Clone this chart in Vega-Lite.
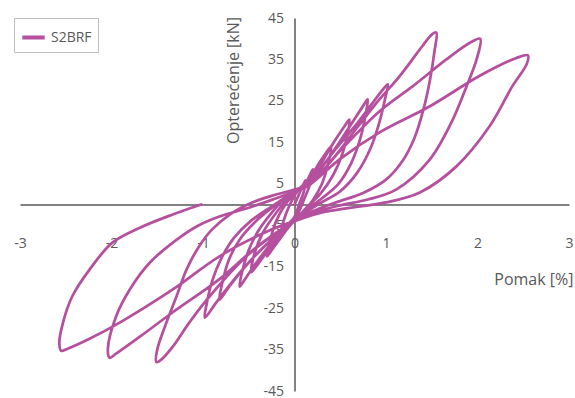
{
  "$schema": "https://vega.github.io/schema/vega-lite/v6.json",
  "width": 549,
  "height": 373,
  "autosize": {"type": "none"},
  "padding": {"left": 20, "top": 18, "right": 6, "bottom": 7},
  "background": "white",
  "config": {"view": {"stroke": null}, "font": "Open Sans"},
  "data": {"values": [
    {"i":0,"x":0,"y":0},{"i":1,"x":0.05,"y":2.5},{"i":2,"x":0.1,"y":5},{"i":3,"x":0.12,"y":5.8},{"i":4,"x":0.1,"y":3},{"i":5,"x":0.05,"y":0},{"i":6,"x":0,"y":-3},
    {"i":7,"x":-0.08,"y":-5},{"i":8,"x":-0.15,"y":-7.5},{"i":9,"x":-0.12,"y":-4},{"i":10,"x":-0.05,"y":0},{"i":11,"x":0.05,"y":3.8},
    {"i":12,"x":0.13,"y":5.5},{"i":13,"x":0.2,"y":8.5},{"i":14,"x":0.17,"y":5},{"i":15,"x":0.1,"y":1},{"i":16,"x":0.02,"y":-3},
    {"i":17,"x":-0.1,"y":-6.5},{"i":18,"x":-0.25,"y":-11},{"i":19,"x":-0.3,"y":-12.5},{"i":20,"x":-0.27,"y":-9},{"i":21,"x":-0.2,"y":-4},{"i":22,"x":-0.1,"y":0},{"i":23,"x":0.05,"y":3.8},
    {"i":24,"x":0.15,"y":6},{"i":25,"x":0.3,"y":11},{"i":26,"x":0.4,"y":14},{"i":27,"x":0.37,"y":10},{"i":28,"x":0.3,"y":5},{"i":29,"x":0.2,"y":1},{"i":30,"x":0.05,"y":-3},
    {"i":31,"x":-0.05,"y":-5},{"i":32,"x":-0.25,"y":-10},{"i":33,"x":-0.42,"y":-15},{"i":34,"x":-0.47,"y":-16.3},{"i":35,"x":-0.44,"y":-12},{"i":36,"x":-0.35,"y":-7},{"i":37,"x":-0.2,"y":-2},{"i":38,"x":-0.05,"y":2},{"i":39,"x":0.08,"y":4},
    {"i":40,"x":0.2,"y":6.5},{"i":41,"x":0.4,"y":14},{"i":42,"x":0.55,"y":19},{"i":43,"x":0.6,"y":20.5},{"i":44,"x":0.58,"y":17},{"i":45,"x":0.52,"y":12},{"i":46,"x":0.42,"y":7},{"i":47,"x":0.28,"y":2.5},{"i":48,"x":0.12,"y":-1},{"i":49,"x":0,"y":-4},
    {"i":50,"x":-0.2,"y":-8},{"i":51,"x":-0.4,"y":-13.5},{"i":52,"x":-0.55,"y":-18.3},{"i":53,"x":-0.6,"y":-19.8},{"i":54,"x":-0.57,"y":-16},{"i":55,"x":-0.5,"y":-11},{"i":56,"x":-0.4,"y":-6.5},{"i":57,"x":-0.25,"y":-2},{"i":58,"x":-0.08,"y":2},{"i":59,"x":0.1,"y":4.3},
    {"i":60,"x":0.3,"y":9},{"i":61,"x":0.55,"y":17},{"i":62,"x":0.75,"y":23.8},{"i":63,"x":0.8,"y":25.4},{"i":64,"x":0.78,"y":22},{"i":65,"x":0.72,"y":16},{"i":66,"x":0.62,"y":10},{"i":67,"x":0.48,"y":5},{"i":68,"x":0.3,"y":1.5},{"i":69,"x":0.12,"y":-1.5},{"i":70,"x":0,"y":-4},
    {"i":71,"x":-0.25,"y":-8.5},{"i":72,"x":-0.5,"y":-14},{"i":73,"x":-0.72,"y":-20},{"i":74,"x":-0.82,"y":-23},{"i":75,"x":-0.79,"y":-19},{"i":76,"x":-0.72,"y":-13.5},{"i":77,"x":-0.6,"y":-8.5},{"i":78,"x":-0.42,"y":-4},{"i":79,"x":-0.2,"y":0},{"i":80,"x":0,"y":3.2},{"i":81,"x":0.13,"y":4.3},
    {"i":82,"x":0.4,"y":12},{"i":83,"x":0.7,"y":20},{"i":84,"x":0.95,"y":27.3},{"i":85,"x":1.02,"y":29},{"i":86,"x":0.99,"y":25.5},{"i":87,"x":0.93,"y":20},{"i":88,"x":0.83,"y":13.5},{"i":89,"x":0.68,"y":7.5},{"i":90,"x":0.5,"y":3.2},{"i":91,"x":0.28,"y":0.3},{"i":92,"x":0.1,"y":-2.2},{"i":93,"x":0,"y":-4},
    {"i":94,"x":-0.3,"y":-9.5},{"i":95,"x":-0.6,"y":-16.5},{"i":96,"x":-0.85,"y":-23.5},{"i":97,"x":-0.98,"y":-27.3},{"i":98,"x":-0.96,"y":-24},{"i":99,"x":-0.9,"y":-18.5},{"i":100,"x":-0.8,"y":-13},{"i":101,"x":-0.66,"y":-8},{"i":102,"x":-0.48,"y":-4},{"i":103,"x":-0.25,"y":-0.5},{"i":104,"x":0,"y":3},{"i":105,"x":0.13,"y":4.3},
    {"i":106,"x":0.4,"y":10.5},{"i":107,"x":0.7,"y":19},{"i":108,"x":0.93,"y":25.4},{"i":109,"x":1.15,"y":31},{"i":110,"x":1.4,"y":38.3},{"i":111,"x":1.5,"y":41},{"i":112,"x":1.55,"y":41.5},
    {"i":113,"x":1.53,"y":37},{"i":114,"x":1.48,"y":30},{"i":115,"x":1.41,"y":23},{"i":116,"x":1.31,"y":16},{"i":117,"x":1.18,"y":10.5},{"i":118,"x":1.0,"y":6},{"i":119,"x":0.75,"y":2.8},{"i":120,"x":0.45,"y":0.5},{"i":121,"x":0.2,"y":-1.6},{"i":122,"x":0,"y":-4},
    {"i":123,"x":-0.3,"y":-8.5},{"i":124,"x":-0.55,"y":-13},{"i":125,"x":-0.96,"y":-23},{"i":126,"x":-1.15,"y":-28.5},{"i":127,"x":-1.33,"y":-34.3},{"i":128,"x":-1.45,"y":-37.3},{"i":129,"x":-1.51,"y":-38},
    {"i":130,"x":-1.5,"y":-35},{"i":131,"x":-1.4,"y":-28.5},{"i":132,"x":-1.29,"y":-22.2},{"i":133,"x":-1.18,"y":-15.7},{"i":134,"x":-1.04,"y":-10},{"i":135,"x":-0.9,"y":-6},{"i":136,"x":-0.7,"y":-2.3},{"i":137,"x":-0.45,"y":0.6},{"i":138,"x":-0.2,"y":2.4},{"i":139,"x":0.05,"y":3.9},{"i":140,"x":0.15,"y":4.5},
    {"i":141,"x":0.5,"y":13},{"i":142,"x":0.93,"y":22.5},{"i":143,"x":1.29,"y":28.5},{"i":144,"x":1.66,"y":35},{"i":145,"x":1.93,"y":39.2},{"i":146,"x":2.03,"y":40},
    {"i":147,"x":1.99,"y":35},{"i":148,"x":1.88,"y":28.5},{"i":149,"x":1.73,"y":20.5},{"i":150,"x":1.48,"y":10.9},{"i":151,"x":1.11,"y":3.6},{"i":152,"x":0.8,"y":1.2},{"i":153,"x":0.5,"y":-0.2},{"i":154,"x":0.2,"y":-2},{"i":155,"x":0,"y":-4},
    {"i":156,"x":-0.4,"y":-10},{"i":157,"x":-0.82,"y":-18},{"i":158,"x":-1.33,"y":-26},{"i":159,"x":-1.69,"y":-31.9},{"i":160,"x":-1.95,"y":-36},{"i":161,"x":-2.02,"y":-37},
    {"i":162,"x":-2.04,"y":-35},{"i":163,"x":-1.95,"y":-27},{"i":164,"x":-1.8,"y":-20.5},{"i":165,"x":-1.58,"y":-14},{"i":166,"x":-1.33,"y":-9.2},{"i":167,"x":-1.07,"y":-5.3},{"i":168,"x":-0.82,"y":-2.9},{"i":169,"x":-0.5,"y":-0.8},{"i":170,"x":-0.2,"y":1.5},{"i":171,"x":0.05,"y":3.5},{"i":172,"x":0.15,"y":4.5},
    {"i":173,"x":0.5,"y":11},{"i":174,"x":0.93,"y":17.4},{"i":175,"x":1.48,"y":23.7},{"i":176,"x":2.02,"y":31},{"i":177,"x":2.42,"y":35.3},{"i":178,"x":2.55,"y":36},
    {"i":179,"x":2.54,"y":34},{"i":180,"x":2.38,"y":28.5},{"i":181,"x":2.13,"y":18.8},{"i":182,"x":1.77,"y":9.2},{"i":183,"x":1.37,"y":2.9},{"i":184,"x":1.0,"y":0.5},{"i":185,"x":0.6,"y":-0.8},{"i":186,"x":0.3,"y":-1.9},{"i":187,"x":0,"y":-4},
    {"i":188,"x":-0.3,"y":-6.5},{"i":189,"x":-0.82,"y":-12.5},{"i":190,"x":-1.33,"y":-20.5},{"i":191,"x":-1.91,"y":-28.5},{"i":192,"x":-2.24,"y":-32.4},{"i":193,"x":-2.48,"y":-34.8},{"i":194,"x":-2.55,"y":-35.3},
    {"i":195,"x":-2.57,"y":-33.3},{"i":196,"x":-2.53,"y":-28.5},{"i":197,"x":-2.43,"y":-22.2},{"i":198,"x":-2.24,"y":-15.7},{"i":199,"x":-1.99,"y":-9.2},{"i":200,"x":-1.69,"y":-5.6},{"i":201,"x":-1.33,"y":-2.4},{"i":202,"x":-1.02,"y":0}
  ]},
  "mark": {"type": "line", "interpolate": "catmull-rom", "strokeWidth": 2.75, "strokeCap": "round", "strokeJoin": "round", "clip": false},
  "encoding": {
    "x": {
      "field": "x", "type": "quantitative",
      "scale": {"domain": [-3, 3], "nice": false, "zero": false},
      "axis": {
        "title": "Pomak [%]", "values": [-3, -2, -1, 0, 1, 2, 3],
        "labelExpr": "toString(datum.value)",
        "offset": -186.5, "grid": false, "ticks": false, "tickSize": 0,
        "labelPadding": 32, "labelFlush": false, "labelOverlap": false,
        "labelFontSize": 14, "labelColor": "#595959",
        "domainColor": "#595959", "domainWidth": 1.5,
        "titleFontSize": 16, "titleFontWeight": "normal", "titleColor": "#595959",
        "titleX": 553, "titleY": 75, "titleAlign": "right", "titleBaseline": "middle"
      }
    },
    "y": {
      "field": "y", "type": "quantitative",
      "scale": {"domain": [-45, 45], "nice": false, "zero": false},
      "axis": {
        "title": "Opterećenje [kN]", "values": [-45, -35, -25, -15, -5, 5, 15, 25, 35, 45],
        "labelExpr": "toString(datum.value)",
        "offset": -274.5, "grid": false, "ticks": false, "tickSize": 0,
        "labelPadding": 11, "labelFlush": false, "labelOverlap": false,
        "labelFontSize": 14, "labelColor": "#595959",
        "domainColor": "#595959", "domainWidth": 1.5,
        "titleFontSize": 16, "titleFontWeight": "normal", "titleColor": "#595959",
        "titleX": -61, "titleY": 62, "titleAngle": -90, "titleAlign": "center", "titleBaseline": "middle"
      }
    },
    "color": {
      "datum": "S2BRF", "type": "nominal",
      "scale": {"range": ["#b5509e"]},
      "legend": {
        "title": null, "orient": "none", "legendX": -6, "legendY": 0,
        "symbolType": "stroke", "symbolStrokeWidth": 4, "symbolSize": 500,
        "labelFontSize": 14, "labelColor": "#595959",
        "strokeColor": "#bfbfbf", "fillColor": "white", "padding": 6
      }
    },
    "order": {"field": "i", "type": "quantitative"}
  }
}
